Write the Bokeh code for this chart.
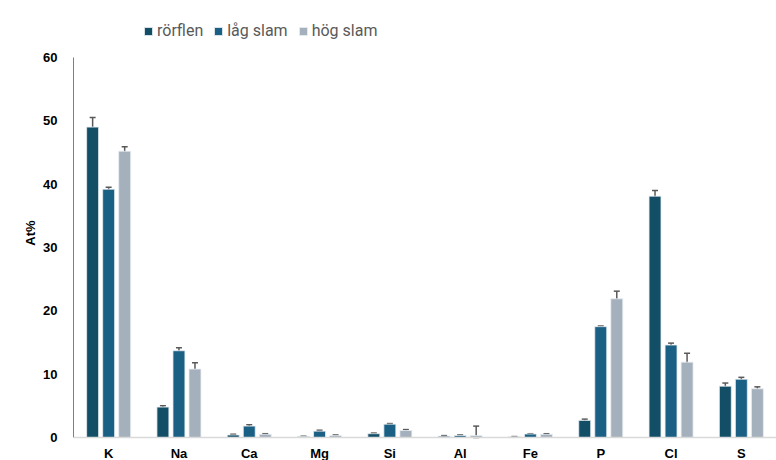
import numpy as np
from bokeh.plotting import figure
from bokeh.models import (ColumnDataSource, Whisker, Range1d, FixedTicker, Legend,
                          LegendItem, LabelSet, Span)
from bokeh.core.properties import value
from bokeh.embed import file_html
from bokeh.resources import INLINE

# Element composition (At%) with standard deviations for the three fuels
elements = ["K", "Na", "Ca", "Mg", "Si", "Al", "Fe", "P", "Cl", "S"]
series_names = ["rörflen", "låg slam", "hög slam"]

rorflen = [49.0, 4.8, 0.4, 0.15, 0.6, 0.2, 0.1, 2.7, 38.1, 8.1]
rorflen_err = [1.5, 0.2, 0.1, 0.05, 0.1, 0.1, 0.05, 0.2, 0.9, 0.5]

lag_slam = [39.2, 13.7, 1.8, 1.0, 2.1, 0.3, 0.55, 17.5, 14.6, 9.2]
lag_slam_err = [0.3, 0.45, 0.2, 0.15, 0.1, 0.1, 0.05, 0.1, 0.3, 0.3]

hog_slam = [45.2, 10.8, 0.5, 0.3, 1.1, 0.3, 0.5, 21.9, 11.9, 7.7]
hog_slam_err = [0.7, 1.0, 0.1, 0.1, 0.15, 1.5, 0.1, 1.2, 1.4, 0.3]

colors = ["#124E66", "#1A6084", "#A4B0BC"]
offsets = [-0.228, 0.0, 0.228]
bar_width = 0.17

# the frame runs to the bottom edge so the category labels sit inside it
p = figure(
    width=776, height=460,
    output_backend="svg", toolbar_location=None,
    x_range=Range1d(0, len(elements)),
    y_range=Range1d(-3.63, 68.2),
    min_border_left=73, min_border_top=5, min_border_bottom=0, min_border_right=0,
)
p.outline_line_color = None
p.grid.grid_line_color = None
p.background_fill_color = "white"
p.border_fill_color = "white"

centers = np.arange(len(elements)) + 0.5
legend_items = []
for name, vals, errs, color, off in zip(
    series_names,
    [rorflen, lag_slam, hog_slam],
    [rorflen_err, lag_slam_err, hog_slam_err],
    colors, offsets,
):
    v = np.array(vals)
    e = np.array(errs)
    src = ColumnDataSource(dict(x=centers + off, top=v, upper=v + e,
                                lower=np.maximum(v - e, 0)))
    r = p.vbar(x="x", top="top", bottom=0, width=bar_width, source=src,
               fill_color=color, line_color="#E8EEF2", line_width=0.8)
    legend_items.append(LegendItem(label=name, renderers=[r]))
    w = Whisker(base="x", upper="upper", lower="lower", source=src,
                line_color="#595959", line_width=1.5)
    for head in (w.upper_head, w.lower_head):
        head.size = 6
        head.line_color = "#595959"
        head.line_width = 1.5
    p.add_layout(w)

# y axis
p.yaxis.ticker = FixedTicker(ticks=[0, 10, 20, 30, 40, 50, 60])
p.yaxis.bounds = (0, 60)
p.yaxis.axis_line_color = "#7F7F7F"
p.yaxis.major_tick_line_color = None
p.yaxis.minor_tick_line_color = None
p.yaxis.major_label_standoff = 10
p.yaxis.major_label_text_font = "Liberation Sans"
p.yaxis.major_label_text_font_style = "bold"
p.yaxis.major_label_text_font_size = "13px"
p.yaxis.major_label_text_color = "#000000"
p.yaxis.axis_label = "At%"
p.yaxis.axis_label_text_font = "Liberation Sans"
p.yaxis.axis_label_text_font_style = "bold"
p.yaxis.axis_label_text_font_size = "13px"
p.yaxis.axis_label_text_color = "#000000"
p.yaxis.axis_label_standoff = 2

# x axis: hidden, replaced by a light baseline and category labels below it
p.xaxis.visible = False
p.add_layout(Span(location=0, dimension="width", line_color="#D9D9D9", line_width=1.5))

lab_src = ColumnDataSource(dict(x=centers, y=np.zeros(len(elements)), text=elements))
p.add_layout(LabelSet(
    x="x", y="y", text="text", source=lab_src, y_offset=-16,
    text_align="center", text_baseline="middle",
    text_font=value("Liberation Sans"), text_font_style="bold", text_font_size="13px",
    text_color="#000000",
))

legend = Legend(
    items=legend_items, orientation="horizontal", location=(70, 420),
    glyph_width=10, glyph_height=10, label_standoff=4, spacing=10,
    label_text_font="Roboto", label_text_font_size="16px", label_text_color="#595959",
    border_line_color=None, background_fill_alpha=0, padding=0, margin=0,
)
p.add_layout(legend)

open("out.html", "w").write(file_html(p, INLINE))
